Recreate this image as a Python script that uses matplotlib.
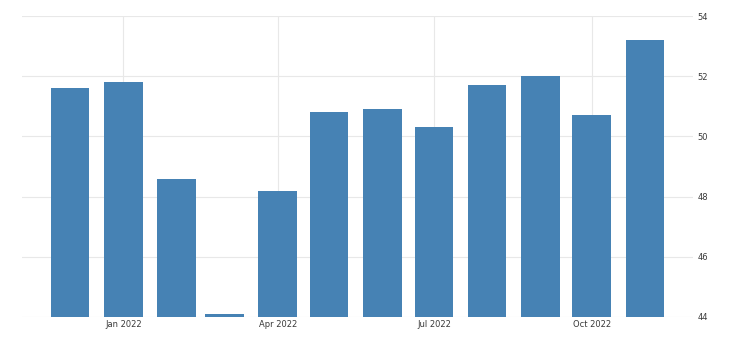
import datetime
import matplotlib
matplotlib.use('Agg')
import matplotlib.pyplot as plt
import matplotlib.dates as mdates

# monthly values, Dec 2021 .. Nov 2022
months = [datetime.date(2021, 12, 1)] + [datetime.date(2022, m, 1) for m in range(1, 12)]
values = [51.6, 51.8, 48.6, 44.1, 48.2, 50.8, 50.9, 50.3, 51.7, 52.0, 50.7, 53.2]

xticks = [datetime.date(2022, 1, 1), datetime.date(2022, 4, 1),
          datetime.date(2022, 7, 1), datetime.date(2022, 10, 1)]
xtick_labels = ["Jan 2022", "Apr 2022", "Jul 2022", "Oct 2022"]
yticks = [44, 46, 48, 50, 52, 54]

fig = plt.figure(figsize=(7.4, 3.45), dpi=100)
ax = fig.add_axes([22 / 740, 28 / 345, 671 / 740, 301 / 345])

ax.bar(months, values, width=22.5, color="#4682b4", zorder=2)

ax.set_xlim(datetime.date(2021, 11, 3), datetime.date(2022, 11, 29))
ax.set_ylim(44, 54)

ax.set_xticks(xticks)
ax.set_xticklabels(xtick_labels)
ax.set_yticks(yticks)
ax.yaxis.tick_right()

ax.grid(True, color="#e8e8e8", linewidth=0.8, zorder=0)
ax.set_axisbelow(True)
for s in ax.spines.values():
	s.set_visible(False)

ax.tick_params(axis="both", length=0, labelsize=6, labelcolor="#3a3a3a")
ax.tick_params(axis="y", pad=3)
ax.tick_params(axis="x", pad=2)

fig.savefig("out.png", dpi=100)
